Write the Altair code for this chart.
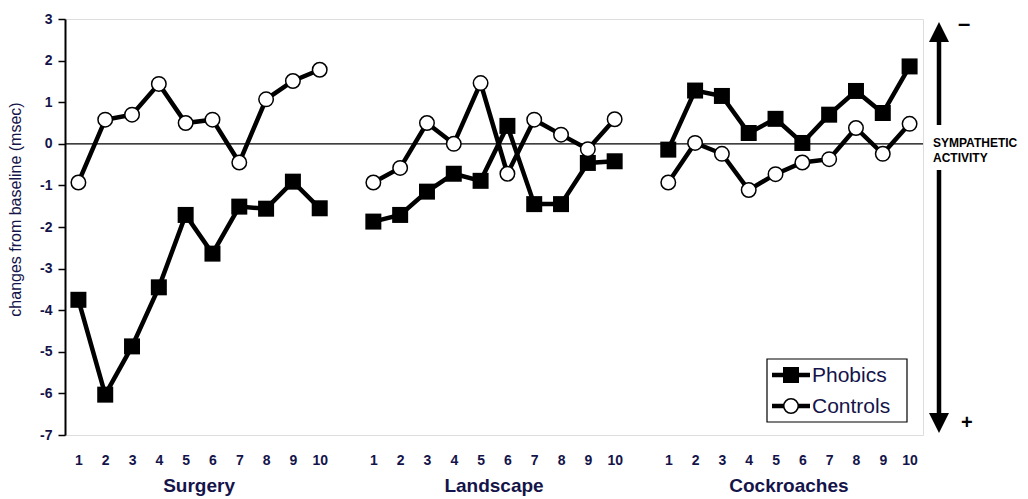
import altair as alt
import pandas as pd

groups = ["Surgery", "Landscape", "Cockroaches"]
trials = [1, 2, 3, 4, 5, 6, 7, 8, 9, 10]
phobics = {
    "Surgery":     [-3.75, -6.03, -4.87, -3.45, -1.71, -2.64, -1.51, -1.56, -0.91, -1.55],
    "Landscape":   [-1.87, -1.71, -1.15, -0.72, -0.89, 0.43, -1.45, -1.45, -0.46, -0.42],
    "Cockroaches": [-0.14, 1.28, 1.15, 0.26, 0.60, 0.02, 0.70, 1.27, 0.74, 1.86],
}
controls = {
    "Surgery":     [-0.93, 0.58, 0.70, 1.44, 0.50, 0.58, -0.45, 1.07, 1.51, 1.78],
    "Landscape":   [-0.93, -0.58, 0.50, 0.00, 1.46, -0.72, 0.58, 0.22, -0.13, 0.59],
    "Cockroaches": [-0.93, 0.02, -0.24, -1.11, -0.73, -0.45, -0.37, 0.38, -0.24, 0.48],
}
y_ticks = [-7, -6, -5, -4, -3, -2, -1, 0, 1, 2, 3]

rows = []
for gi, g in enumerate(groups):
    for series, d in (("Phobics", phobics), ("Controls", controls)):
        for ti, t in enumerate(trials):
            rows.append({"group": g, "series": series, "trial": t,
                         "pos": gi * 11 + ti, "value": d[g][ti]})
df = pd.DataFrame(rows)
tick_positions = sorted(df["pos"].unique().tolist())

FONT = "Arial"
NAVY = "#14144a"

xs = alt.Scale(domain=[-0.5, 31.5], nice=False, zero=False)
ys = alt.Scale(domain=[-7, 3], nice=False, zero=False)

x_axis = alt.Axis(
    values=tick_positions, labelExpr="datum.value % 11 + 1", title=None,
    domain=False, ticks=False, grid=False, labelPadding=18, labelOverlap=False,
    labelFontSize=14, labelFontWeight="bold", labelColor=NAVY, labelFont=FONT)
y_axis = alt.Axis(
    values=y_ticks, labelExpr="'' + datum.value", title="changes from baseline (msec)",
    grid=False, labelOverlap=False,
    domainColor="black", domainWidth=2, tickColor="black", tickSize=7, tickWidth=1.5,
    labelFontSize=14, labelFontWeight="bold", labelColor=NAVY, labelFont=FONT, labelPadding=6,
    titleFontSize=16, titleFontWeight="normal", titleColor=NAVY, titleFont=FONT,
    titleX=-42, titleY=190)

x_enc = alt.X("pos:Q", scale=xs, axis=x_axis)
y_enc = alt.Y("value:Q", scale=ys, axis=y_axis)

base = alt.Chart(df)

lines = base.mark_line(color="black", strokeWidth=4.5).encode(
    x=x_enc, y=y_enc, detail=["series:N", "group:N"])

zero = alt.Chart(pd.DataFrame({"value": [0]})).mark_rule(color="black", strokeWidth=1.2).encode(
    y=y_enc)

squares = base.transform_filter(alt.datum.series == "Phobics").mark_point(
    shape="square", filled=True, color="black", size=256, opacity=1).encode(x=x_enc, y=y_enc)

circles = base.transform_filter(alt.datum.series == "Controls").mark_point(
    shape="circle", filled=True, fill="white", stroke="black", strokeWidth=1.5,
    size=210, opacity=1).encode(x=x_enc, y=y_enc)

gl = pd.DataFrame({"name": groups, "pos": [4.5, 15.5, 26.5]})
group_labels = alt.Chart(gl).mark_text(
    font=FONT, fontSize=19, fontWeight="bold", color=NAVY, baseline="middle").encode(
    x=x_enc, y=alt.value(467), text="name:N")

one = pd.DataFrame({"a": [0]})

def rule(x, y, x2, y2, w, color="black"):
    return alt.Chart(one).mark_rule(color=color, strokeWidth=w).encode(
        x=alt.value(x), y=alt.value(y), x2=alt.value(x2), y2=alt.value(y2))

def txt(s, x, y, size, weight="bold", align="left", color="black"):
    return alt.Chart(pd.DataFrame({"t": [s]})).mark_text(
        font=FONT, fontSize=size, fontWeight=weight, align=align, baseline="middle",
        color=color).encode(x=alt.value(x), y=alt.value(y), text="t:N")

def tri(x, y, path):
    return alt.Chart(one).mark_point(shape=path, filled=True, color="black",
                                     size=400, opacity=1).encode(
        x=alt.value(x), y=alt.value(y))

arrows = [
    rule(874, 20, 874, 106, 4.5),
    rule(874, 151, 874, 397, 4.5),
    tri(874, 13, "M-1,1L0,-1L1,1Z"),
    tri(874, 404, "M-1,-1L0,1L1,-1Z"),
    txt("\u2013", 893, 5, 22),
    txt("+", 896, 404, 20),
    txt("SYMPATHETIC", 868, 124, 12),
    txt("ACTIVITY", 868, 139, 12),
]

leg_box = alt.Chart(one).mark_rect(fill="white", stroke="black", strokeWidth=1.2).encode(
    x=alt.value(702), x2=alt.value(842), y=alt.value(340), y2=alt.value(403))
legend = [
    leg_box,
    rule(707, 356, 745, 356, 4.5),
    rule(707, 387, 745, 387, 4.5),
    alt.Chart(one).mark_point(shape="square", filled=True, color="black", size=256,
                              opacity=1).encode(x=alt.value(726), y=alt.value(356)),
    alt.Chart(one).mark_point(shape="circle", filled=True, fill="white", stroke="black",
                              strokeWidth=1.5, size=210, opacity=1).encode(
        x=alt.value(726), y=alt.value(387)),
    txt("Phobics", 747, 357, 21, weight="normal", color=NAVY),
    txt("Controls", 747, 388, 21, weight="normal", color=NAVY),
]

chart = alt.layer(lines, zero, squares, circles, group_labels, *arrows, *legend).properties(
    width=858, height=416,
    autosize=alt.AutoSizeParams(type="none"),
    padding={"left": 65, "top": 19, "right": 105, "bottom": 64},
).configure_view(stroke="#9a9a9a", strokeWidth=1.5).configure(background="white")

chart.save("out.html", embed_options={"renderer": "svg", "actions": False})
